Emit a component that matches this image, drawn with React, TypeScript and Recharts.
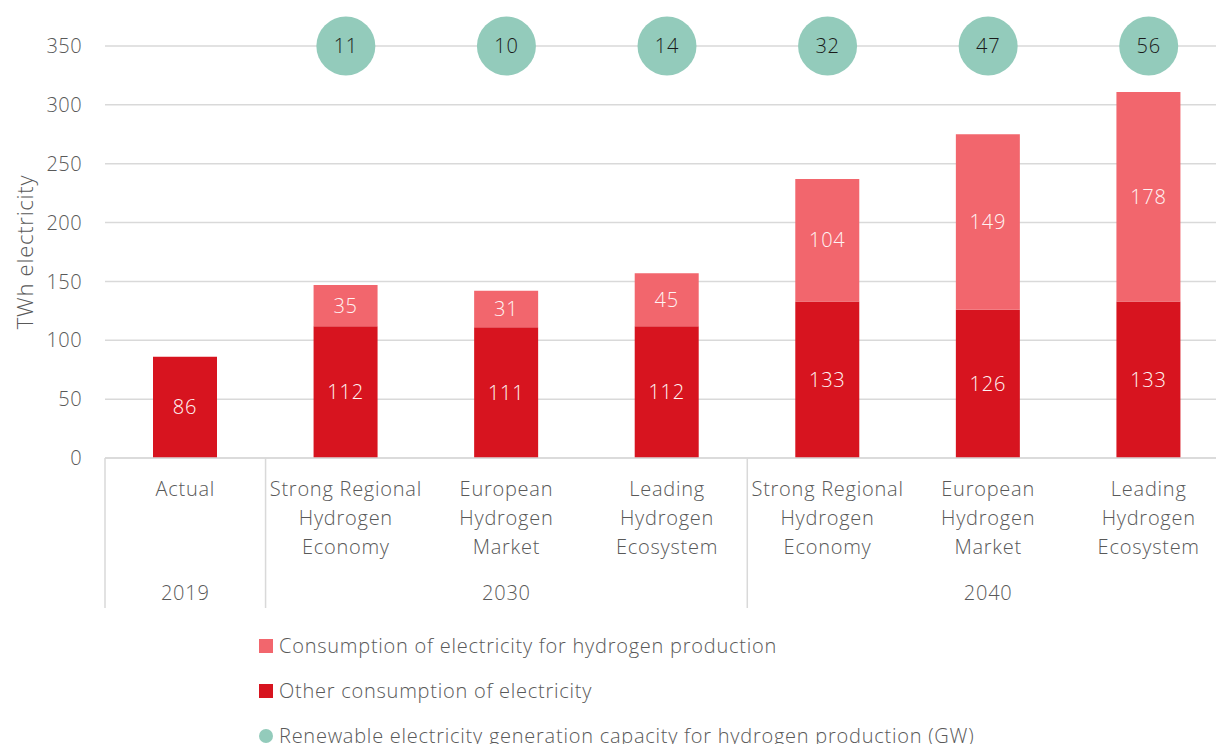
import { Bar, CartesianGrid, ComposedChart, LabelList, Line, XAxis, YAxis } from "recharts";

const categories = [
  "Actual",
  "Strong Regional\nHydrogen\nEconomy",
  "European\nHydrogen\nMarket",
  "Leading\nHydrogen\nEcosystem",
  "Strong Regional\nHydrogen\nEconomy",
  "European\nHydrogen\nMarket",
  "Leading\nHydrogen\nEcosystem",
];
const years = ["2019", "2030", "2030", "2030", "2040", "2040", "2040"];
const otherConsumption = [86, 112, 111, 112, 133, 126, 133];
const hydrogenConsumption = [null, 35, 31, 45, 104, 149, 178];
const renewableCapacity = [null, 11, 10, 14, 32, 47, 56];
// bubbles sit on the top gridline, like the Excel helper series
const bubbleLevel = 350;
const yTicks = [0, 50, 100, 150, 200, 250, 300, 350];

const data = categories.map((c, i) => ({
  name: c,
  year: years[i],
  other: otherConsumption[i],
  hydrogen: hydrogenConsumption[i],
  capacity: renewableCapacity[i],
  bubble: renewableCapacity[i] == null ? null : bubbleLevel,
}));

const DARK = "#D7141F";
const LIGHT = "#F2666D";
const TEAL = "#93CBBB";
const GRID = "#D9D9D9";
const TEXT = "#595959";
const FONT = "'Open Sans', sans-serif";
const LS = 0.75;

const CHART_W = 1229;
const Y_W = 105;
const BAND = (CHART_W - Y_W) / categories.length;

const yearStart = [0, 1, 4];
const yearCenter = [0, 2, 5];

const CategoryTick = (props: any) => {
  const { x, y, payload, index } = props;
  const lines = String(payload.value).split("\n");
  return (
    <g>
      {lines.map((l, k) => (
        <text
          key={k}
          x={x}
          y={y + 31 + k * 29}
          dy="0.35em"
          textAnchor="middle"
          fill={TEXT}
          fontSize={20}
          letterSpacing={LS}
          fontWeight={300}
          fontFamily={FONT}
        >
          {l}
        </text>
      ))}
      {yearStart.includes(index) && (
        <line x1={x - BAND / 2} x2={x - BAND / 2} y1={y} y2={y + 150} stroke={GRID} strokeWidth={1.5} />
      )}
      {yearCenter.includes(index) && (
        <text
          x={x}
          y={y + 135}
          dy="0.35em"
          textAnchor="middle"
          fill={TEXT}
          fontSize={20}
          letterSpacing={LS}
          fontWeight={300}
          fontFamily={FONT}
        >
          {years[index]}
        </text>
      )}
    </g>
  );
};

const BarLabel = (props: any) => {
  const { x, y, width, height, value } = props;
  if (value == null) return null;
  return (
    <text
      x={x + width / 2}
      y={y + height / 2}
      dy="0.35em"
      textAnchor="middle"
      fill="#FFF4F4"
      fontSize={20}
      letterSpacing={LS}
      fontWeight={300}
      fontFamily={FONT}
    >
      {value}
    </text>
  );
};

const Bubble = (props: any) => {
  const { cx, cy, payload, index } = props;
  if (payload.bubble == null || cx == null) return <g key={index} />;
  return (
    <g key={index}>
      <circle cx={cx} cy={cy} r={29.5} fill={TEAL} />
      <text
        x={cx}
        y={cy}
        dy="0.35em"
        textAnchor="middle"
        fill="#1A1A1A"
        fontSize={20}
        letterSpacing={LS}
        fontWeight={300}
        fontFamily={FONT}
      >
        {payload.capacity}
      </text>
    </g>
  );
};

const legendItems = [
  { label: "Consumption of electricity for hydrogen production", color: LIGHT, shape: "square" },
  { label: "Other consumption of electricity", color: DARK, shape: "square" },
  { label: "Renewable electricity generation capacity for hydrogen production (GW)", color: TEAL, shape: "circle" },
];

const App = () => {
  return (
    <div style={{ position: "fixed", left: 0, top: 0, width: 1216, height: 744, overflow: "hidden", background: "#fff" }}>
      <ComposedChart
        width={CHART_W}
        height={744}
        data={data}
        margin={{ top: 46, right: 0, bottom: 126, left: 0 }}
        barSize={64}
      >
        <CartesianGrid vertical={false} stroke={GRID} strokeWidth={1.5} />
        <XAxis
          dataKey="name"
          height={160}
          interval={0}
          tickLine={false}
          tickSize={0}
          tickMargin={0}
          axisLine={{ stroke: GRID, strokeWidth: 1.5 }}
          tick={<CategoryTick />}
        />
        <YAxis
          width={Y_W}
          domain={[0, 350]}
          ticks={yTicks}
          axisLine={false}
          tickLine={false}
          tickMargin={17}
          tick={{ fill: TEXT, fontSize: 20, fontFamily: FONT, fontWeight: 300, letterSpacing: 0.4 }}
          label={() => (
            <text
              x={24}
              y={252}
              transform="rotate(-90 24 252)"
              textAnchor="middle"
              dominantBaseline="central"
              fill={TEXT}
              fontSize={22}
              letterSpacing={LS}
              fontWeight={300}
              fontFamily={FONT}
            >
              TWh electricity
            </text>
          )}
        />
        <Bar dataKey="other" stackId="a" fill={DARK} isAnimationActive={false}>
          <LabelList dataKey="other" content={<BarLabel />} />
        </Bar>
        <Bar dataKey="hydrogen" stackId="a" fill={LIGHT} isAnimationActive={false}>
          <LabelList dataKey="hydrogen" content={<BarLabel />} />
        </Bar>
        <Line dataKey="bubble" stroke="none" isAnimationActive={false} dot={<Bubble />} activeDot={false} />
      </ComposedChart>
      <div
        style={{
          position: "absolute",
          top: 623,
          left: 259,
          fontFamily: FONT,
          fontSize: 20,
          fontWeight: 300,
          letterSpacing: LS,
          color: TEXT,
        }}
      >
        {legendItems.map((it) => (
          <div key={it.label} style={{ display: "flex", alignItems: "center", height: 45, whiteSpace: "nowrap" }}>
            <span
              style={{
                display: "inline-block",
                width: 14,
                height: 14,
                background: it.color,
                borderRadius: it.shape === "circle" ? "50%" : 0,
                marginRight: 6,
              }}
            />
            {it.label}
          </div>
        ))}
      </div>
    </div>
  );
};

export default App;
